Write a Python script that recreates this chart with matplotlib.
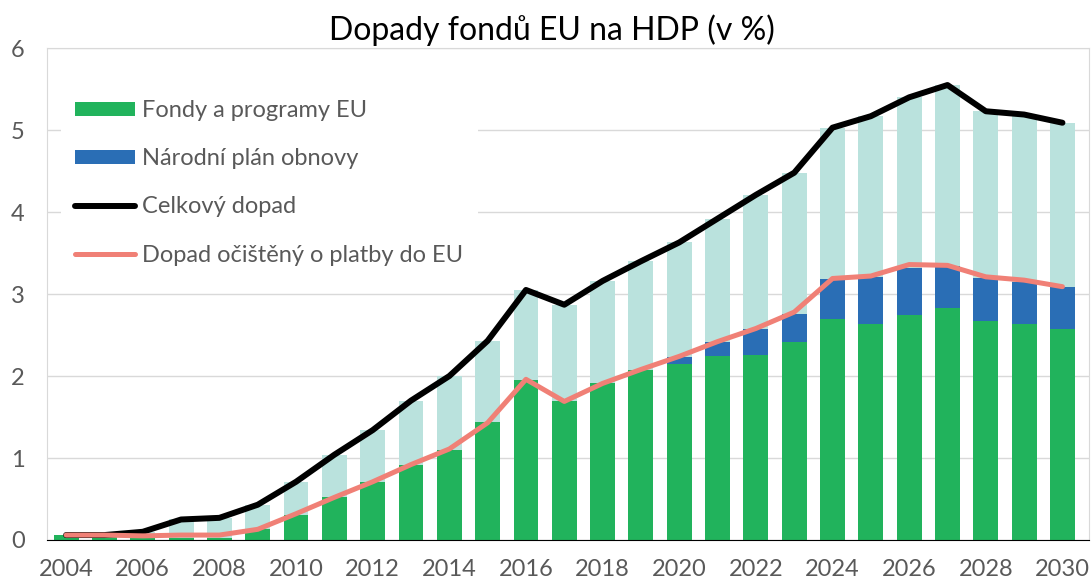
import matplotlib

matplotlib.use("Agg")
import matplotlib.pyplot as plt
import numpy as np

plt.rcParams["font.family"] = ["Lato", "DejaVu Sans"]

years = list(range(2004, 2031))
fondy = [0.06, 0.04, 0.03, 0.03, 0.03, 0.13, 0.31, 0.53, 0.71, 0.92, 1.10, 1.44, 1.95, 1.69,
         1.91, 2.07, 2.15, 2.25, 2.26, 2.42, 2.69, 2.64, 2.74, 2.83, 2.67, 2.63, 2.57]
npo = [0, 0, 0, 0, 0, 0, 0, 0, 0, 0, 0, 0, 0, 0,
       0, 0, 0.08, 0.17, 0.31, 0.34, 0.49, 0.57, 0.58, 0.51, 0.52, 0.52, 0.52]
celkovy = [0.06, 0.06, 0.10, 0.25, 0.27, 0.43, 0.71, 1.04, 1.34, 1.70, 2.00, 2.43, 3.05, 2.87,
           3.16, 3.40, 3.63, 3.92, 4.21, 4.48, 5.03, 5.17, 5.40, 5.55, 5.23, 5.19, 5.09]
ocisteny = [0.06, 0.06, 0.05, 0.06, 0.06, 0.13, 0.32, 0.52, 0.71, 0.92, 1.11, 1.43, 1.96, 1.69,
            1.91, 2.08, 2.24, 2.42, 2.58, 2.78, 3.19, 3.22, 3.36, 3.35, 3.21, 3.17, 3.09]

x = np.arange(len(years))
fondy_a = np.array(fondy)
npo_a = np.array(npo)
zbytek = np.array(celkovy) - fondy_a - npo_a

fig = plt.figure(figsize=(10.92, 5.8), dpi=100)
ax = fig.add_axes([0.043, 0.069, 0.9545, 0.848])

w = 0.65
ax.bar(x, fondy_a, width=w, color="#21b35c", label="Fondy a programy EU", zorder=2)
ax.bar(x, npo_a, width=w, bottom=fondy_a, color="#2a6eb5", label="Národní plán obnovy", zorder=2)
ax.bar(x, zbytek, width=w, bottom=fondy_a + npo_a, color="#bae2dd", zorder=2)
ax.plot(x, celkovy, color="black", lw=4.3, solid_capstyle="round", label="Celkový dopad", zorder=3)
ax.plot(x, ocisteny, color="#f08076", lw=3.6, solid_capstyle="round",
        label="Dopad očištěný o platby do EU", zorder=3)

ax.set_xlim(-0.5, 26.7)
ax.set_ylim(0, 6)
ax.set_yticks(range(7))
ax.set_xticks(x[::2])
ax.set_xticklabels([str(y) for y in years[::2]])
ax.tick_params(length=0, labelsize=17, colors="#595959")
ax.tick_params(axis="x", pad=14)
ax.tick_params(axis="y", pad=16)
ax.yaxis.grid(True, color="#d9d9d9", lw=1, zorder=0)
for side in ["top", "right", "left"]:
    ax.spines[side].set_color("#d9d9d9")
ax.spines["bottom"].set_color("black")
ax.spines["bottom"].set_zorder(4)

fig.suptitle("Dopady fondů EU na HDP (v %)", fontsize=23, x=0.505, y=0.975)

handles, labels = ax.get_legend_handles_labels()
order = [labels.index(l) for l in ["Fondy a programy EU", "Národní plán obnovy",
                                   "Celkový dopad", "Dopad očištěný o platby do EU"]]
leg = ax.legend([handles[i] for i in order], [labels[i] for i in order],
                loc="upper left", bbox_to_anchor=(0.0134, 0.923), fontsize=17,
                frameon=True, facecolor="white", edgecolor="none", framealpha=1,
                handlelength=2.55, handleheight=0.5, handletextpad=0.3, labelspacing=1.15,
                borderpad=0.6, borderaxespad=0, fancybox=False)
for t in leg.get_texts():
    t.set_color("#595959")
leg.set_zorder(5)

fig.savefig("out.png", dpi=100)
